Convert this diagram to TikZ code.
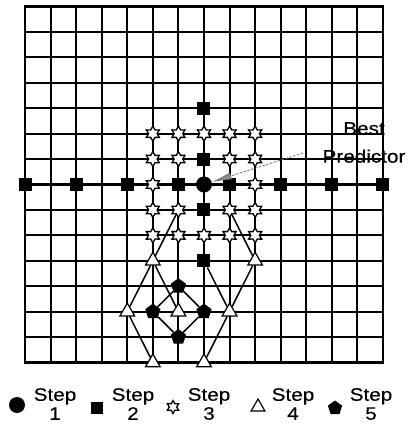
\documentclass[tikz,border=0pt]{standalone}
\usepackage{fontspec}
\newfontfamily\labelfont[FakeStretch=1.15,FakeBold=0.25]{Liberation Sans}
\usetikzlibrary{shapes.geometric,arrows.meta}
\pgfdeclarelayer{gridlayer}
\pgfdeclarelayer{links}
\pgfsetlayers{gridlayer,links,main}

\begin{document}
\begin{tikzpicture}[x=1pt,y=-1pt,
  gridline/.style={line width=2.1pt,line cap=rect},
  link/.style={line width=1.5pt},
  stepone/.style={circle,fill=black,minimum size=16pt,inner sep=0pt},
  steptwo/.style={rectangle,fill=black,minimum size=13pt,inner sep=0pt},
  stepthree/.style={star,star points=6,star point ratio=1.75,draw=black,fill=white,
    line width=1.3pt,minimum size=15pt,inner sep=0pt},
  stepfour/.style={regular polygon,regular polygon sides=3,draw=black,fill=white,
    line width=1.2pt,minimum size=17pt,inner sep=0pt},
  stepfive/.style={regular polygon,regular polygon sides=5,fill=black,
    minimum size=16pt,inner sep=0pt},
  legendtext/.style={font=\labelfont\fontsize{18}{19}\selectfont,align=center,inner sep=0pt},
  pointer/.style={draw=black!55,line width=0.8pt,dash pattern=on 2.5pt off 1.5pt,
    -{Latex[length=20pt,width=7pt,fill=black!45]}}
]
\begin{pgfonlayer}{gridlayer}
  \fill[white] (0,0) rectangle (411,435);
\end{pgfonlayer}
\useasboundingbox (0,0) rectangle (411,435);

% search grid: 14 x 14 cells
\begin{scope}[shift={(25pt,-6.5pt)},x=25.57pt,y=-25.43pt]
  \begin{pgfonlayer}{gridlayer}
    \foreach \i in {0,...,14} {
      \draw[gridline] (\i,0) -- (\i,14);
      \draw[gridline] (0,\i) -- (14,\i);
    }
  \end{pgfonlayer}

  % step 1: centre point
  \node[stepone] (c) at (7,7) {};

  % step 2: cross pattern
  \foreach \i in {0,2,4,6,8,10,12,14}
    \node[steptwo] (sq-\i-7) at (\i,7) {};
  \foreach \j in {4,6,8,10}
    \node[steptwo] (sq-7-\j) at (7,\j) {};

  % step 3: 5 x 5 block around the best point
  \foreach \i/\j in {5/5,6/5,7/5,8/5,9/5,
                     5/6,6/6,8/6,9/6,
                     5/7,9/7,
                     5/8,6/8,8/8,9/8,
                     5/9,6/9,7/9,8/9,9/9}
    \node[stepthree] (st-\i-\j) at (\i,\j) {};

  % step 4: triangle pattern
  \foreach \i/\j in {5/10,9/10,4/12,6/12,8/12,5/14,7/14}
    \node[stepfour] (tr-\i-\j) at (\i,\j) {};

  % step 5: diamond of pentagons
  \foreach \i/\j in {6/11,5/12,7/12,6/13}
    \node[stepfive] (pe-\i-\j) at (\i,\j) {};

  \begin{pgfonlayer}{links}
    \draw[link] (st-6-8) -- (tr-5-10);
    \draw[link] (tr-5-10) -- (tr-4-12);
    \draw[link] (tr-5-10) -- (tr-6-12);
    \draw[link] (tr-4-12) -- (tr-5-14);
    \draw[link] (sq-7-10) -- (tr-8-12);
    \draw[link] (st-8-8) -- (tr-9-10);
    \draw[link] (tr-9-10) -- (tr-8-12);
    \draw[link] (tr-8-12) -- (tr-7-14);
    \draw[link] (pe-6-11) -- (pe-5-12) -- (pe-6-13) -- (pe-7-12) -- (pe-6-11);
  \end{pgfonlayer}
\end{scope}

% label for the best predictor
\node[legendtext,font=\labelfont\fontsize{18}{28}\selectfont] (best) at (364,142.5) {Best\\Predictor};
\coordinate (tail) at (303,153);
\draw[pointer] (tail) -- (c);

% legend
\node[stepone] (l1) at (17,405) {};
\node[legendtext] (t1) at (55,404) {Step\\1};
\node[steptwo,minimum size=12pt] (l2) at (97,408) {};
\node[legendtext] (t2) at (133,404) {Step\\2};
\node[stepthree,minimum size=13pt] (l3) at (173,407) {};
\node[legendtext] (t3) at (209,404) {Step\\3};
\node[stepfour,minimum size=16pt] (l4) at (258,407) {};
\node[legendtext] (t4) at (293,404) {Step\\4};
\node[stepfive,minimum size=15pt] (l5) at (335,408) {};
\node[legendtext] (t5) at (371,404) {Step\\5};
\end{tikzpicture}
\end{document}
